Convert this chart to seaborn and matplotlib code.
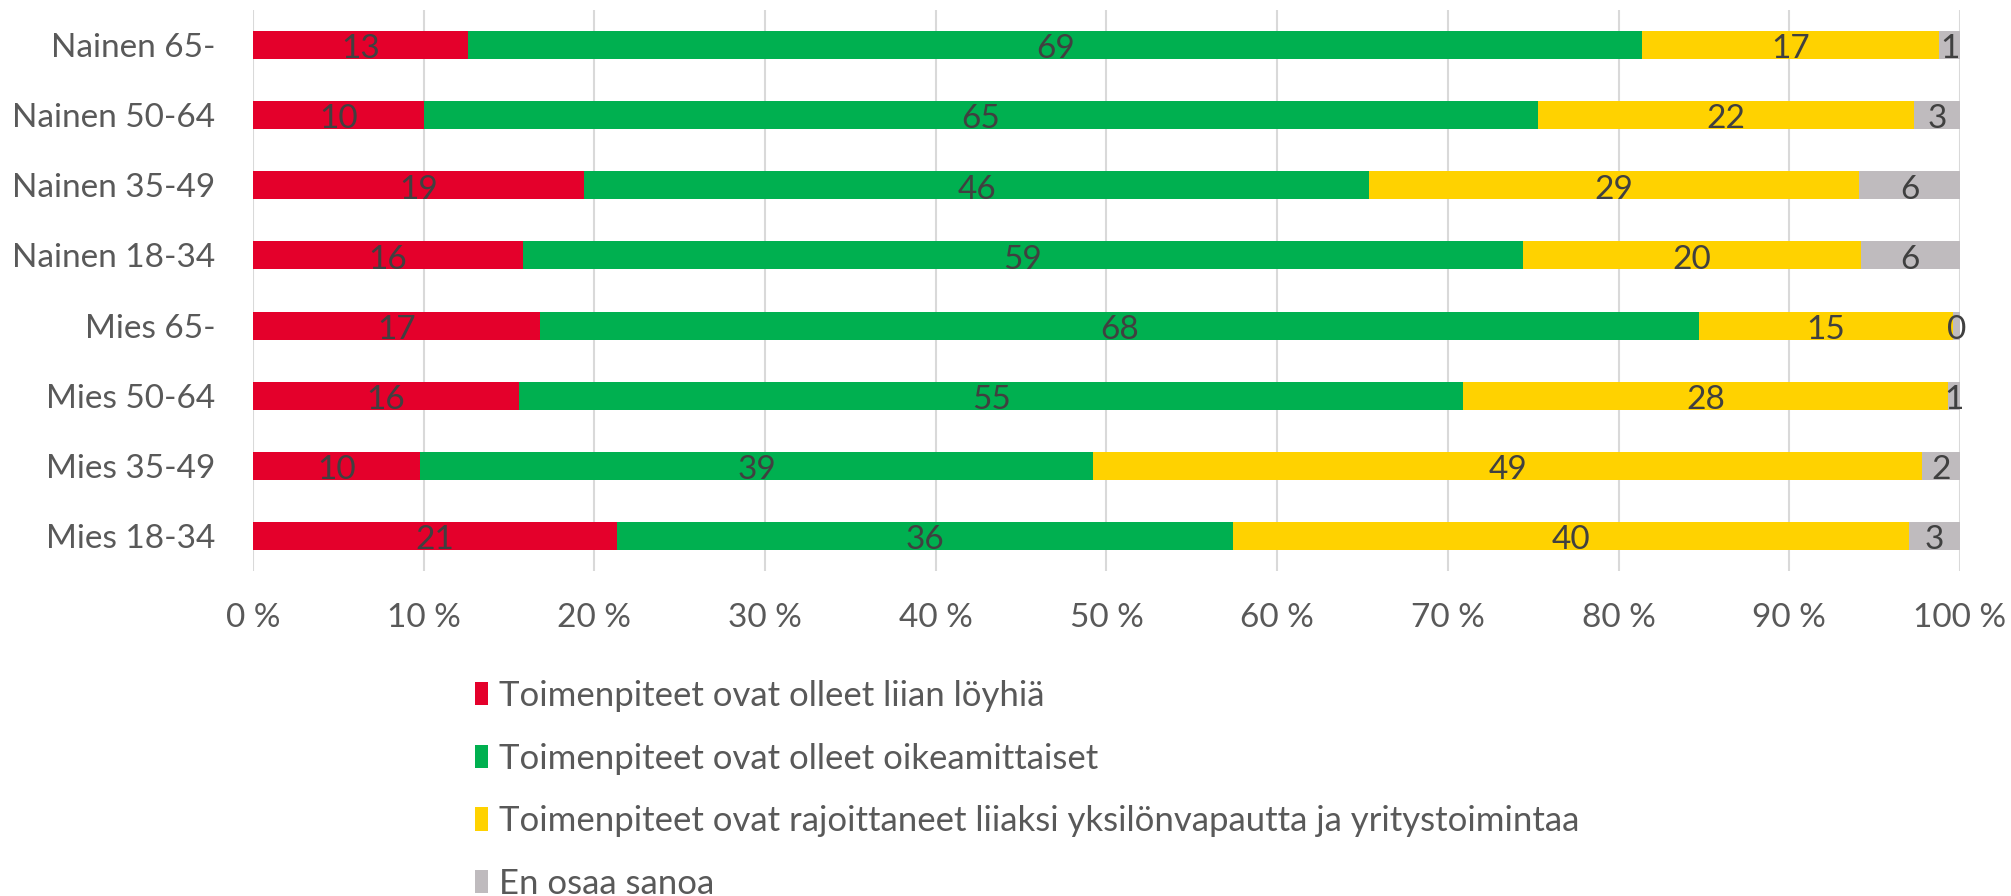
import numpy as np
import pandas as pd
import seaborn as sns
import matplotlib.pyplot as plt
from matplotlib.patches import Patch

groups = ["Nainen 65-", "Nainen 50-64", "Nainen 35-49", "Nainen 18-34",
          "Mies 65-", "Mies 50-64", "Mies 35-49", "Mies 18-34"]
liian_loyhia = [12.6, 10.0, 19.4, 15.8, 16.8, 15.6, 9.8, 21.3]
oikeamittaiset = [68.8, 65.3, 46.0, 58.6, 67.9, 55.3, 39.4, 36.1]
rajoittaneet = [17.4, 22.0, 28.7, 19.8, 14.9, 28.4, 48.6, 39.6]
en_osaa = [1.2, 2.7, 5.9, 5.8, 0.4, 0.7, 2.2, 3.0]

series_names = [
    "Toimenpiteet ovat olleet liian löyhiä",
    "Toimenpiteet ovat olleet oikeamittaiset",
    "Toimenpiteet ovat rajoittaneet liiaksi yksilönvapautta ja yritystoimintaa",
    "En osaa sanoa",
]
colors = ["#E4002B", "#00B050", "#FFD200", "#BFBBBE"]
tick_vals = list(range(0, 101, 10))

sns.set_theme(style="white")
plt.rcParams["font.family"] = ["Lato", "DejaVu Sans"]
text_col = "#595959"

series = [liian_loyhia, oikeamittaiset, rajoittaneet, en_osaa]
vals = np.array(series)
cum = np.cumsum(vals, axis=0)

df = pd.DataFrame({"group": groups})
for i in range(4):
    df[f"cum{i}"] = cum[i]

fig = plt.figure(figsize=(20.11, 8.96), dpi=100)
ax = fig.add_axes([0.1258, 0.3627, 0.8488, 0.6261])

# draw stacked bars from the total down so each layer covers the previous one
for i in reversed(range(4)):
    sns.barplot(data=df, x=f"cum{i}", y="group", orient="h", color=colors[i],
                saturation=1, width=0.4, linewidth=0, ax=ax, zorder=3)

for i in range(4):
    for j, g in enumerate(groups):
        center = cum[i][j] - vals[i][j] / 2
        ax.text(center, j + 0.06, "%.0f" % vals[i][j], ha="center", va="center",
                fontsize=24, color="#404040", zorder=5)

ax.set_xlim(0, 100)
ax.set_xticks(tick_vals)
ax.set_xticklabels([f"{t} %" for t in tick_vals])
ax.set_xlabel("")
ax.set_ylabel("")
ax.grid(axis="x", color="#D9D9D9", linewidth=1.5, zorder=0)
ax.grid(axis="y", visible=False)
for s in ax.spines.values():
    s.set_visible(False)
ax.tick_params(axis="x", length=0, pad=23, labelsize=24, labelcolor=text_col)
ax.tick_params(axis="y", length=0, pad=27, labelsize=24, labelcolor=text_col)

handles = [Patch(facecolor=c, edgecolor="none") for c in colors]
fig.legend(handles, series_names, loc="upper left", bbox_to_anchor=(0.236, 0.241),
           frameon=False, fontsize=25, labelcolor=text_col, handlelength=0.4,
           handleheight=0.65, handletextpad=0.3, borderaxespad=0, borderpad=0,
           labelspacing=0.88)

fig.savefig("out.png", dpi=100)
